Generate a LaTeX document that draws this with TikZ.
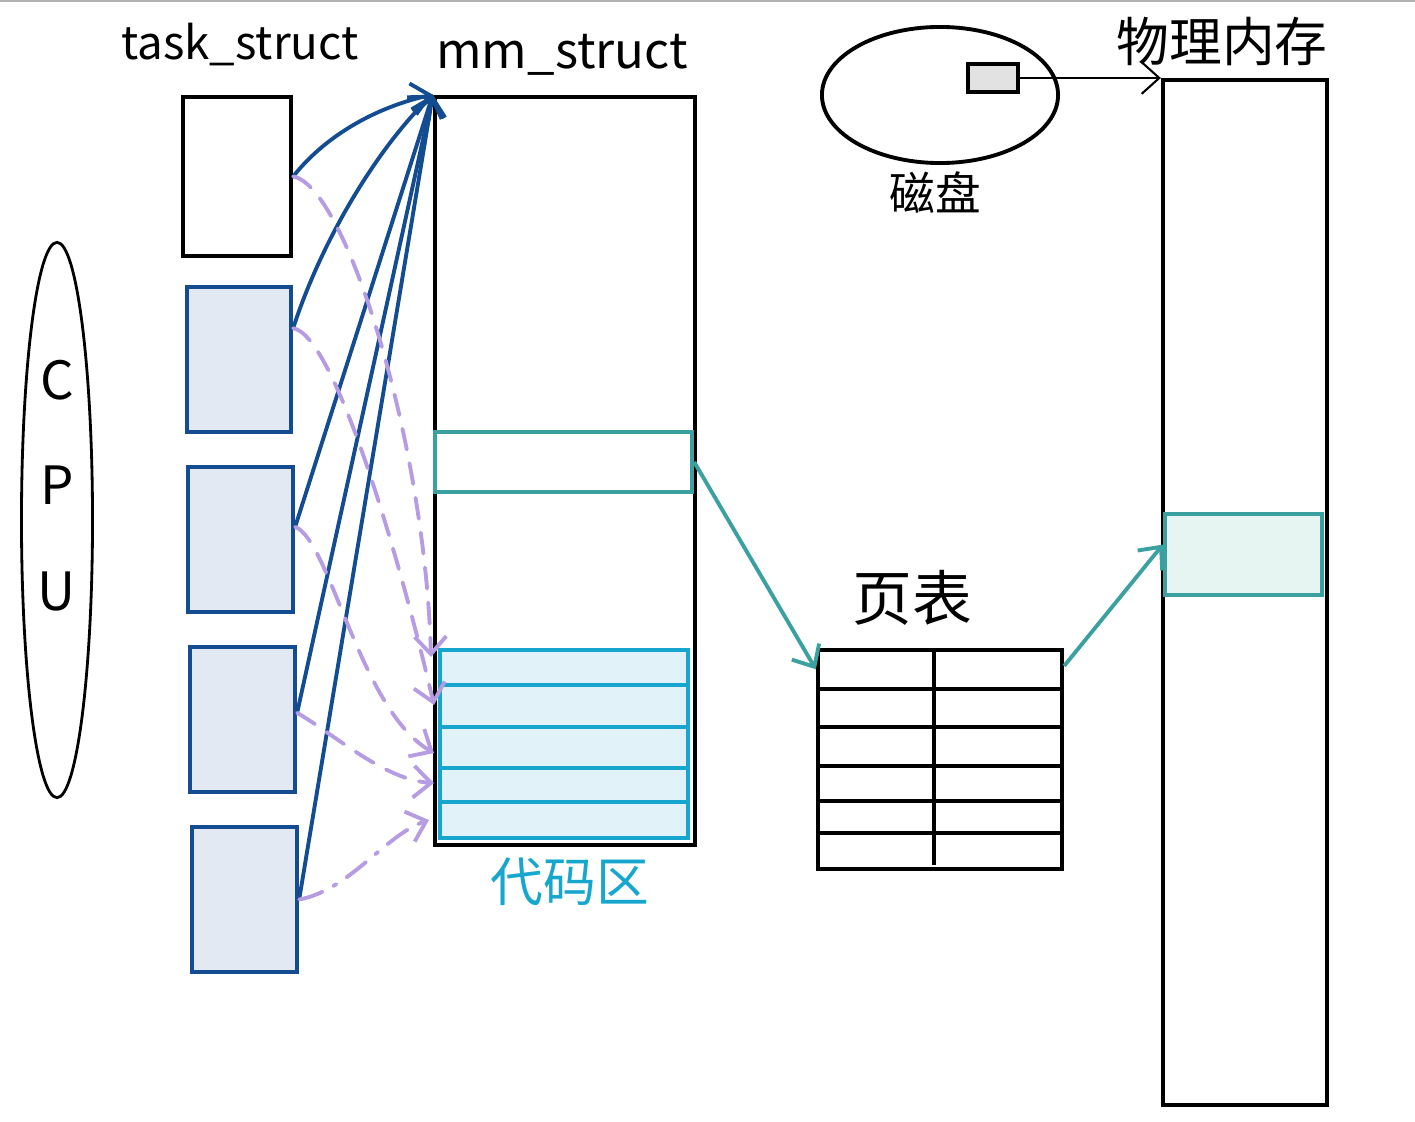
\documentclass[tikz,border=0pt]{standalone}
\usepackage{fontspec}
\setmainfont{Noto Sans CJK SC}
\usetikzlibrary{arrows.meta,calc,shapes.geometric}

\definecolor{taskblue}{RGB}{20,76,146}
\definecolor{taskfill}{RGB}{227,233,242}
\definecolor{lavender}{RGB}{182,156,226}
\definecolor{mapteal}{RGB}{58,160,160}
\definecolor{codecyan}{RGB}{22,166,206}
\definecolor{codefill}{RGB}{225,243,248}
\definecolor{blockfill}{RGB}{230,244,242}
\definecolor{diskgray}{RGB}{226,226,226}

\begin{document}
\begin{tikzpicture}[x=0.01cm,y=-0.01cm,
  box/.style={draw,line width=1.2pt,inner sep=0pt},
  taskbox/.style={box,draw=taskblue,fill=taskfill,minimum width=1.05cm,minimum height=1.45cm},
  tip/.style={-{Straight Barb[length=5pt,width=9pt]}},
  ptr/.style={tip,taskblue,line width=1.1pt},
  share/.style={tip,lavender,line width=1.1pt,line cap=round,dash pattern=on 6pt off 4pt},
  sharelast/.style={share,dash pattern=on 7pt off 3.5pt on 1pt off 3.5pt},
  mapping/.style={tip,mapteal,line width=1.1pt},
  hand/.style={inner sep=0pt,font=\fontsize{13}{16}\selectfont},
  cpu/.style={inner sep=0pt,font=\fontsize{15}{18}\selectfont}]
\useasboundingbox (0,0) rectangle (1415,1121);
\draw[gray!60,line width=0.6pt] (0,1) -- (1415,1);

% CPU
\node[draw,ellipse,line width=0.8pt,minimum width=0.71cm,minimum height=5.55cm,inner sep=0pt] (cpu) at (57,520) {};
\node[cpu] (cpuc) at (57,380) {C};
\node[cpu] (cpup) at (57,485) {P};
\node[cpu] (cpuu) at (57,592) {U};

% task_struct
\node[hand] (tasklbl) at (240,45) {task\_struct};
\node[box,minimum width=1.08cm,minimum height=1.59cm] (t1) at (237,176.5) {};
\node[taskbox,minimum width=1.04cm] (t2) at (239,359.5) {};
\node[taskbox] (t3) at (240.5,539.5) {};
\node[taskbox] (t4) at (242.5,719.5) {};
\node[taskbox] (t5) at (244.5,899.5) {};

% mm_struct
\node[hand,font=\fontsize{14}{16}\selectfont] (mmlbl) at (562,55) {mm\_struct};
\node[box,minimum width=2.6cm,minimum height=7.48cm] (mm) at (565,471) {};
\node[box,draw=mapteal,minimum width=2.57cm,minimum height=0.6cm] (vma) at (563.5,462) {};
\node[box,draw=codecyan,fill=codefill,minimum width=2.48cm,minimum height=1.88cm] (code) at (564,744) {};
\foreach \y in {685,727,768,802}
  \draw[codecyan,line width=1.1pt] (440,\y) -- (686,\y);
\node[hand,font=\fontsize{15}{18}\selectfont,text=codecyan] (codelbl) at (570,882) {代码区};

\coordinate (c1) at (431,657);
\coordinate (c2) at (434,705);
\coordinate (c3) at (434,753);
\coordinate (c4) at (434,783);
\coordinate (c5) at (429,820);

\draw[ptr] (t1.east) .. controls (330,130) and (385,105) .. (mm.north west);
\draw[ptr] (t2.30) .. controls (325,230) and (385,140) .. (mm.north west);
\draw[ptr] (t3.13) -- (mm.north west);
\draw[ptr] (t4.7) -- (mm.north west);
\draw[ptr] (t5.east) -- (mm.north west);

\draw[share] (t1.east) .. controls (345,185) and (425,440) .. (c1);
\draw[share] (t2.30) .. controls (335,335) and (400,560) .. (c2);
\draw[share] (t3.13) .. controls (330,540) and (360,710) .. (c3);
\draw[share] (t4.7) .. controls (335,735) and (385,780) .. (c4);
\draw[sharelast] (t5.east) .. controls (350,890) and (385,835) .. (c5);

% page table
\node[hand,font=\fontsize{17}{20}\selectfont] (ptlbl) at (912,598) {页表};
\node[box,minimum width=2.44cm,minimum height=2.19cm] (pt) at (940,759.5) {};
\draw[line width=1pt] (934,650) -- (934,865);
\foreach \y in {689,727,766,801,833}
  \draw[line width=1pt] (818,\y) -- (1062,\y);

% physical memory
\node[hand,font=\fontsize{15}{18}\selectfont] (physlbl) at (1222,42) {物理内存};
\node[box,minimum width=1.64cm,minimum height=10.25cm] (phys) at (1245,592.5) {};
\node[box,draw=mapteal,fill=blockfill,minimum width=1.57cm,minimum height=0.81cm] (page) at (1243.5,554.5) {};

\draw[mapping] (vma.east) -- (pt.144);
\draw[mapping] (pt.37) -- (page.173);

% disk
\node[draw,ellipse,line width=1.1pt,minimum width=2.36cm,minimum height=1.36cm,inner sep=0pt] (disk) at (940,95) {};
\node[box,line width=1pt,fill=diskgray,minimum width=0.5cm,minimum height=0.28cm] (blk) at (993,78) {};
\node[hand] (disklbl) at (935,193) {磁盘};
\draw[tip,line width=0.6pt] (blk.east) -- (blk.east -| phys.west);
\end{tikzpicture}
\end{document}
